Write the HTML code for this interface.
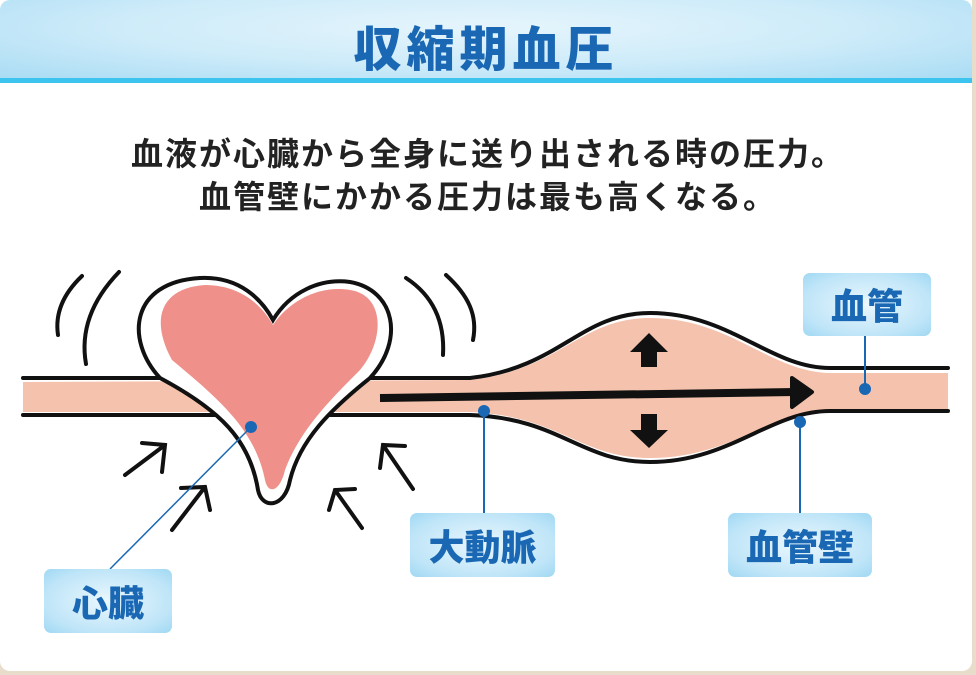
<!DOCTYPE html>
<html><head><meta charset="utf-8"><style>
html,body{margin:0;padding:0;background:#e8dccb;}
.card{position:absolute;left:0;top:0;width:972px;height:671px;background:#fff;border-radius:0 0 10px 10px;overflow:hidden;}
.hdr{position:absolute;left:0;top:0;width:972px;height:78px;border-radius:10px 10px 0 0;background:radial-gradient(ellipse at 50% 35%,#e6f5fc 0%,#cdebf9 55%,#a9dcf4 100%);border-bottom:5px solid #3cc4ef;}
.ttl{position:absolute;left:0;width:972px;top:10px;text-align:center;font:900 48px "Noto Sans CJK JP",sans-serif;color:#1a67b4;letter-spacing:5px;}
.txt{position:absolute;left:0;width:976px;text-align:center;font:700 32px "Liberation Sans","Noto Sans CJK JP",sans-serif;color:#222;letter-spacing:2px;}
.lbl{position:absolute;border-radius:7px;background:radial-gradient(ellipse at 50% 50%,#eaf7fd 0%,#bfe5f8 70%,#9fd8f3 100%);color:#1a67b4;font:900 36px "Noto Sans CJK JP",sans-serif;text-align:center;}
</style></head><body>
<div class="card">
<div class="hdr"></div>
<div class="ttl">収縮期血圧</div>
<div class="txt" style="top:129px">血液が心臓から全身に送り出される時の圧力。</div>
<div class="txt" style="top:172px">血管壁にかかる圧力は最も高くなる。</div>
<svg width="976" height="675" style="position:absolute;left:0;top:0">
<g fill="#f5c3ad">
<path d="M23 382 L470 380 C560 370 580 318 650 318 C730 318 770 372 830 373 L948 373 L948 410 L830 410 C770 412 730 458 650 458 C580 458 560 416 470 412 L23 412Z"/>
</g>
<g fill="none" stroke="#111" stroke-width="4" stroke-linecap="round">
<path d="M23 378 L470 378 C560 368 580 313 650 313 C730 313 770 368 830 368 L948 368"/>
<path d="M23 415 L470 415 C560 418 580 462 650 462 C730 462 770 411 830 411 L948 411"/>
</g>
<path d="M160 378 C125 340 130 282 200 278 C240 276 262 300 273 320 C290 292 320 278 350 282 C395 290 405 340 370 378 C330 410 300 440 290 480 C285 508 262 510 258 490 C250 440 220 410 160 378Z" fill="#fff" stroke="#111" stroke-width="4"/>
<path d="M172 360 C150 320 160 288 205 285 C240 285 262 305 273 325 C290 300 320 285 350 290 C385 295 385 340 360 370 C330 400 300 430 285 470 C280 492 268 495 265 480 C255 430 220 400 172 360Z" fill="#ef918a"/>
<g fill="none" stroke="#111" stroke-width="4" stroke-linecap="round">
<path d="M82 276 C62 295 55 315 58 335"/>
<path d="M119 272 C92 300 80 330 86 364"/>
<path d="M406 278 C432 295 445 320 443 355"/>
<path d="M446 275 C468 295 478 315 473 340"/>
<path d="M125 475 L165 445 M142 443 L165 445 L162 472"/>
<path d="M172 530 L205 487 M181 488 L205 487 L210 510"/>
<path d="M413 489 L383 445 M380 468 L383 445 L405 446"/>
<path d="M362 528 L335 490 M329 510 L335 490 L355 489"/>
</g>
<path d="M380 398 L795 392" stroke="#111" stroke-width="8"/>
<path d="M792 378 L812 392 L792 407Z" fill="#111" stroke="#111" stroke-width="4" stroke-linejoin="round"/>
<path d="M641 367 L641 352 L630 352 L649 333 L668 352 L657 352 L657 367Z" fill="#111"/>
<path d="M641 414 L641 430 L630 430 L649 448 L668 430 L657 430 L657 414Z" fill="#111"/>
<g stroke="#1a67b4" stroke-width="2" fill="#1a67b4">
<line x1="251" y1="427" x2="110" y2="569" stroke-width="1.5"/>
<line x1="484" y1="411" x2="484" y2="513"/>
<line x1="800" y1="422" x2="800" y2="513"/>
<line x1="865" y1="389" x2="865" y2="336"/>
<circle cx="251" cy="427" r="5"/><circle cx="484" cy="411" r="5"/><circle cx="800" cy="422" r="5"/><circle cx="865" cy="389" r="5"/>
</g>
</svg>
<div class="lbl" style="left:44px;top:569px;width:128px;height:64px;line-height:64px">心臓</div>
<div class="lbl" style="left:410px;top:513px;width:145px;height:64px;line-height:64px">大動脈</div>
<div class="lbl" style="left:728px;top:513px;width:144px;height:64px;line-height:64px">血管壁</div>
<div class="lbl" style="left:803px;top:273px;width:128px;height:63px;line-height:63px">血管</div>
</div>
</body></html>
